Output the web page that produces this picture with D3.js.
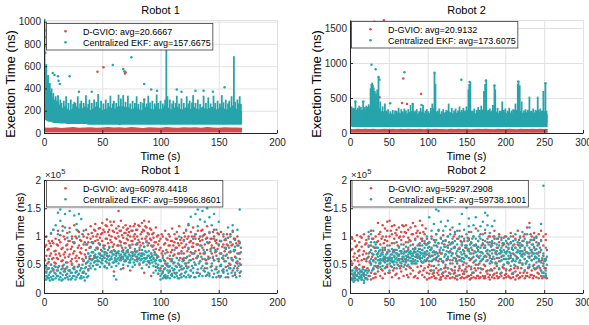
<!DOCTYPE html>
<html>
<head>
<meta charset="utf-8">
<script src="https://cdn.jsdelivr.net/npm/d3@7"></script>
<style>
  body { margin: 0; background: #fff; }
  svg { display: block; font-family: "Liberation Sans", Arial, sans-serif; }
</style>
</head>
<body>
<svg id="chart" width="589" height="325"></svg>
<script>
// ---- data ----
const RED = '#d64b4b';
const TEAL = '#27a4ab';

const xTicksR1 = [0, 50, 100, 150, 200];
const xTicksR2 = [0, 50, 100, 150, 200, 250, 300];
const yTicksTopR1 = [0, 200, 400, 600, 800, 1000];
const yTicksTopR2 = [0, 500, 1000, 1500];
const yTicksBottom = [0, 50, 100, 150, 200]; // in 1e3 ns

const legendTopR1 = ['D-GVIO: avg=20.6667', 'Centralized EKF: avg=157.6675'];
const legendTopR2 = ['D-GVIO: avg=20.9132', 'Centralized EKF: avg=173.6075'];
const legendBotR1 = ['D-GVIO: avg=60978.4418', 'Centralized EKF: avg=59966.8601'];
const legendBotR2 = ['D-GVIO: avg=59297.2908', 'Centralized EKF: avg=59738.1001'];

// top row: dense bands [t, low, high] (ns), spike columns [t, top] and outliers [t, v]
const gvioBandR1 = [[0,5,50],[5,5,48],[10,5,52],[15,5,46],[20,5,50],[25,5,55],[30,5,48],[35,5,50],[40,5,52],[45,5,47],[50,5,50],[55,5,54],[60,5,49],[65,5,51],[70,5,48],[75,5,53],[80,5,50],[85,5,46],[90,5,52],[95,5,50],[100,5,48],[105,5,55],[110,5,50],[115,5,47],[120,5,52],[125,5,49],[130,5,51],[135,5,48],[140,5,53],[145,5,50],[150,5,47],[155,5,52],[160,5,49],[165,5,50],[170,5,48]];
const ekfBandR1 = [[0,150,780],[1,120,620],[2,110,540],[4,100,420],[6,100,360],[8,90,300],[10,90,270],[12,90,280],[14,85,240],[16,85,225],[18,85,245],[20,80,220],[22,80,205],[24,80,215],[26,80,230],[28,80,240],[30,80,220],[32,80,210],[34,80,235],[36,80,240],[38,75,215],[40,75,205],[42,75,220],[44,75,235],[46,75,245],[48,75,225],[50,75,205],[52,75,215],[54,75,220],[56,75,240],[58,75,225],[60,75,210],[62,75,225],[64,75,245],[66,75,235],[68,75,245],[70,75,230],[72,75,240],[74,75,220],[76,75,210],[78,75,235],[80,75,225],[82,75,210],[84,75,205],[86,75,220],[88,75,240],[90,75,230],[92,75,215],[94,75,210],[96,75,245],[98,75,225],[100,75,210],[102,75,220],[104,75,260],[106,75,235],[108,75,215],[110,75,210],[112,75,230],[114,75,240],[116,75,220],[118,75,210],[120,75,215],[122,75,235],[124,75,220],[126,75,215],[128,75,240],[130,75,225],[132,75,210],[134,75,215],[136,75,240],[138,75,220],[140,75,215],[142,75,225],[144,75,235],[146,75,230],[148,75,210],[150,75,220],[152,75,240],[154,75,225],[156,75,210],[158,75,215],[160,75,230],[162,75,250],[164,75,225],[166,75,210],[168,75,205],[170,75,200]];
const ekfSpikesR1 = [[0.5,1000],[2,620],[3.5,520],[4,420],[5,450],[6.5,400],[8,360],[9,300],[10,330],[11,290],[12,340],[14,300],[15,270],[17,290],[19,330],[21,270],[23,300],[25,260],[26,280],[27,270],[29,330],[31,265],[32,290],[34,270],[36,340],[38,260],[39,300],[41,270],[43,300],[45,280],[46.5,350],[49,290],[51,265],[53,300],[55,270],[57,335],[59,265],[60,290],[62,270],[64,345],[66,310],[68,340],[70,280],[72,335],[74,265],[76,290],[78,270],[79.5,330],[81,260],[83,280],[85,270],[86,300],[88,265],[89.5,335],[91,275],[93,290],[95,265],[96.7,345],[98,270],[100,290],[102,265],[104,300],[105,780],[106,330],[108,300],[110,265],[111,290],[113,270],[114,335],[116,265],[118,310],[120,270],[122.5,330],[124,265],[125,290],[127,275],[128,340],[130,270],[132,300],[134,260],[137,335],[139,270],[141,320],[143,265],[145.5,335],[147,270],[149,290],[151,265],[152.6,340],[154,275],[156,300],[158,265],[159,290],[161,330],[163,690],[164,280],[166,300],[167,265],[168,330],[169,260]];
const gvioOutR1 = [[45.6,980],[45.9,550],[51,590],[69.5,535],[86,300],[38.5,226],[65,80],[70,545]];
const ekfOutR1 = [[0.3,1015],[0.5,920],[0.6,860],[0.8,780],[1.2,720],[7.5,540],[9,520],[12,510],[12.5,470],[13.5,440],[22,510],[59,610],[68,575],[69,555],[75,680],[86,440],[104.7,780],[97,380],[118,370],[137,380],[145,370],[155,410],[30,370],[41,370],[114,390],[130,380],[92,390]];

const gvioBandR2 = [[0,5,58],[5,5,55],[10,5,60],[15,5,56],[20,5,62],[25,5,57],[30,5,60],[35,5,55],[40,5,58],[45,5,61],[50,5,56],[55,5,59],[60,5,55],[65,5,60],[70,5,57],[75,5,62],[80,5,56],[85,5,58],[90,5,60],[95,5,55],[100,5,59],[105,5,57],[110,5,61],[115,5,56],[120,5,58],[125,5,55],[130,5,60],[135,5,57],[140,5,59],[145,5,56],[150,5,61],[155,5,55],[160,5,58],[165,5,60],[170,5,56],[175,5,59],[180,5,57],[185,5,55],[190,5,60],[195,5,58],[200,5,56],[205,5,61],[210,5,57],[215,5,55],[220,5,59],[225,5,58],[230,5,56],[235,5,60],[240,5,57],[245,5,59],[250,5,56],[254.5,5,57]];
const ekfBandR2 = [[0,100,320],[3,85,345],[6,85,355],[9,85,330],[12,85,340],[15,85,325],[18,85,345],[21,85,330],[24,85,350],[27,85,420],[30,85,410],[33,85,380],[36,85,390],[39,85,330],[42,85,300],[45,85,320],[48,85,285],[51,85,270],[54,85,280],[57,85,265],[60,85,285],[63,85,300],[66,85,270],[69,85,285],[72,85,270],[75,85,285],[78,85,310],[81,85,320],[84,85,285],[87,85,270],[90,85,300],[93,85,310],[96,85,285],[99,85,265],[102,85,280],[105,85,320],[108,85,360],[111,85,310],[114,85,280],[117,85,270],[120,85,285],[123,85,300],[126,85,320],[129,85,300],[132,85,280],[135,85,285],[138,85,290],[141,85,310],[144,85,300],[147,85,285],[150,85,310],[153,85,350],[156,85,320],[159,85,290],[162,85,280],[165,85,300],[168,85,310],[171,85,340],[174,85,350],[177,85,310],[180,85,285],[183,85,310],[186,85,340],[189,85,300],[192,85,285],[195,85,320],[198,85,295],[201,85,285],[204,85,300],[207,85,290],[210,85,285],[213,85,310],[216,85,350],[219,85,320],[222,85,290],[225,85,285],[228,85,300],[231,85,320],[234,85,295],[237,85,285],[240,85,320],[243,85,300],[246,85,290],[249,85,330],[252,85,290],[254.5,85,270]];
const ekfSpikesR2 = [[2,380],[4,360],[7,450],[10,360],[12,390],[14,370],[17,450],[19,370],[21,390],[23,370],[24,410],[26.5,640],[27.5,700],[28.5,720],[29.5,690],[30.5,650],[32,600],[33.5,560],[35,620],[36.7,800],[39,450],[42,380],[45,420],[47,320],[49,340],[52,310],[55,330],[58,320],[60,320],[62.6,360],[66,340],[68,310],[70,350],[72,320],[75,340],[78,400],[81,420],[84,320],[86,340],[89,310],[91,360],[94,400],[97,320],[99,340],[101,310],[104,360],[106,420],[108.8,860],[110,700],[113,320],[115,350],[118,310],[120,340],[124,330],[127,420],[131,360],[134,320],[136,350],[139,320],[141,380],[144,330],[146,360],[148,320],[150,380],[152.5,620],[153.5,700],[155,730],[158,320],[160,350],[163,330],[165,370],[167,330],[169,390],[172.5,600],[174,700],[175.5,750],[178,330],[180,350],[182,320],[184,400],[186,680],[187,620],[190,360],[193,320],[196,450],[198,330],[200,350],[203,320],[205,360],[208,320],[210,340],[212,330],[213,420],[216,700],[217,735],[218.5,680],[221,450],[224,320],[226,340],[229,330],[231,520],[234,320],[236,350],[239,330],[241.7,520],[243,330],[245,350],[247,320],[249,600],[251.6,710],[253,320]];
const gvioOutR2 = [[31.5,1590],[43.6,1610],[68.6,778],[38,510],[67,430],[73.4,415],[80.7,415],[91.5,557]];
const ekfOutR2 = [[27.6,975],[33,910],[36.7,800],[38,760],[70,870],[108.8,860],[143.3,760],[51.8,425],[7,450],[17,450],[154,730],[175,750],[186,680],[216.6,735],[251.6,710],[92,400]];
const SPIKE_BASE = 150;

// bottom row: scattered samples, rows [t, v1, v2, ...] with v in 1e3 ns
const gvioPtsR1 = [[0,48,72,95,60],[2,38,85,66,100],[4,55,78,44,92],[6,70,105,50,83],[8,62,40,88,112],[10,75,52,96,68],[12,45,84,110,60],[14,90,66,35,102],[16,58,80,118,48],[18,72,95,42,63],[20,86,54,106,77],[22,40,68,92,115],[24,60,82,50,100],[26,74,46,120,88],[28,56,97,66,38],[30,84,62,108,50],[32,70,44,92,79],[34,58,100,36,86],[36,76,52,112,64],[38,90,42,70,104],[40,82,60,118,96],[42,100,72,48,88],[44,110,64,92,122],[46,78,104,56,94],[48,115,86,68,98],[50,92,124,60,106],[52,84,108,72,46],[54,118,96,130,66],[56,102,80,112,52],[58,90,120,74,100],[60,108,86,126,38],[62,96,114,70,56],[64,145,100,84,118],[66,110,90,128,62],[68,98,76,116,44],[70,88,106,120,58],[72,114,94,72,102],[74,100,80,118,40],[76,92,110,66,86],[78,104,74,122,96],[80,86,112,60,100],[82,118,90,76,50],[84,96,108,124,70],[86,110,82,128,36],[88,100,116,62,92],[90,126,88,104,54],[92,94,112,70,30],[94,106,84,98,60],[96,90,116,46,78],[98,102,64,86,34],[100,80,44,96,58],[102,66,100,38,74],[104,88,52,110,28],[106,72,94,48,62],[108,100,60,84,40],[110,76,114,56,92],[112,90,68,104,36],[114,62,96,80,108],[116,84,50,118,70],[118,98,74,42,88],[120,70,106,58,94],[122,86,62,112,48],[124,100,78,54,120],[126,72,92,108,40],[128,88,60,116,82],[130,96,74,104,50],[132,64,110,86,36],[134,92,70,100,56],[136,80,112,60,94],[138,104,44,86,70],[140,76,98,118,52],[142,90,62,106,34],[144,70,96,48,84],[146,100,58,80,112],[148,66,88,42,94],[150,84,104,56,30],[152,92,70,48,108],[154,60,86,100,38],[156,78,46,94,66],[158,98,62,84,28],[160,72,104,50,90],[162,86,58,110,40],[164,64,96,76,32],[166,100,52,84,44],[168,70,90,36,60]];
const gvioCoreR1 = [[1,58,82],[3,52,76],[5,66,88],[7,60,92],[9,74,54],[11,62,86],[13,70,94],[15,56,78],[17,68,100],[19,84,54],[21,64,92],[23,78,56],[25,70,90],[27,62,100],[29,80,110],[31,72,94],[33,60,104],[35,68,90],[37,86,98],[39,60,80],[41,90,106],[43,62,112],[45,80,100],[47,114,88],[49,76,104],[51,84,112],[53,96,120],[55,88,108],[57,94,126],[59,82,110],[61,98,74],[63,106,84],[65,92,110],[67,102,80],[69,106,88],[71,96,112],[73,84,108],[75,92,110],[77,100,118],[79,86,112],[81,94,120],[83,104,84],[85,88,112],[87,96,118],[89,84,106],[91,96,114],[93,104,82],[95,90,72],[97,100,66],[99,92,76],[101,70,104],[103,86,58],[105,76,96],[107,84,104],[109,72,92],[111,66,84],[113,80,96],[115,70,88],[117,94,62],[119,60,80],[121,82,100],[123,74,96],[125,66,90],[127,82,100],[129,70,100],[131,62,86],[133,76,96],[135,84,110],[137,70,102],[139,96,58],[141,64,88],[143,78,96],[145,62,108],[147,72,92],[149,78,106],[151,70,92],[153,82,62],[155,74,94],[157,86,104],[159,72,52],[161,84,62],[163,74,96],[165,88,54],[167,70,92],[169,80,50]];
const ekfPtsR1 = [[0,28,40,34,50],[2,24,36,46,30],[4,32,44,26,60],[6,38,28,50,106],[8,30,42,24,112],[10,34,26,46,120],[12,40,30,142,104],[14,28,36,148,128],[16,44,32,24,110],[18,26,38,140,116],[20,34,46,28,98],[22,30,40,145,108],[24,36,26,52,96],[26,42,30,137,90],[28,28,38,122,112],[30,34,48,140,100],[32,30,44,131,26],[34,38,28,110,56],[36,46,34,62,86],[38,40,56,70,30],[40,52,66,44,80],[42,60,48,72,90],[44,56,68,42,76],[46,64,50,80,58],[48,70,46,62,86],[50,58,74,52,66],[52,62,48,78,68],[54,54,70,60,44],[56,66,58,82,50],[58,60,72,46,64],[60,68,54,76,30],[62,56,66,48,24],[64,62,74,52,70],[66,58,68,42,84],[68,64,50,72,60],[70,70,56,80,66],[72,60,76,48,64],[74,66,54,84,58],[76,72,60,46,70],[78,58,68,78,50],[80,64,74,56,88],[82,70,52,62,80],[84,60,76,44,66],[86,68,56,82,62],[88,62,72,50,90],[90,56,66,74,46],[92,70,58,84,64],[94,62,48,76,36],[96,58,68,40,52],[98,50,64,34,44],[100,40,30,56,24],[102,36,48,26,62],[104,44,32,56,70],[106,30,40,52,28],[108,38,26,48,66],[110,34,44,60,30],[112,42,28,54,76],[114,30,46,36,62],[116,40,26,58,100],[118,34,48,70,28],[120,44,30,62,92],[122,38,52,28,110],[124,32,46,80,122],[126,40,58,30,135],[128,36,70,96,44],[130,28,50,140,104],[132,42,66,148,118],[134,34,84,130,56],[136,48,30,145,100],[138,38,72,126,60],[140,44,90,150,32],[142,30,62,134,108],[144,40,80,120,52],[146,34,58,96,140],[148,46,74,28,112],[150,38,86,60,126],[152,50,30,92,70],[154,42,66,104,36],[156,56,80,28,96],[158,34,62,116,48],[160,44,90,74,100],[162,30,58,108,120],[164,48,82,36,94],[166,40,70,112,56],[168,52,88,30,148]];
const ekfCoreR1 = [[1,24,44],[3,42,28],[5,36,22],[7,24,44],[9,36,48],[11,40,30],[13,24,48],[15,42,22],[17,38,50],[19,32,44],[21,24,40],[23,36,24],[25,44,30],[27,24,36],[29,46,32],[31,26,40],[33,36,50],[35,44,22],[37,28,54],[39,48,64],[41,58,72],[43,66,54],[45,62,50],[47,70,56],[49,54,66],[51,64,80],[53,56,72],[55,64,76],[57,60,72],[59,68,54],[61,62,58],[63,72,60],[65,58,66],[67,64,74],[69,56,68],[71,62,74],[73,54,68],[75,62,72],[77,66,54],[79,64,72],[81,60,68],[83,66,58],[85,70,54],[87,60,74],[89,56,66],[91,62,52],[93,54,66],[95,56,68],[97,46,62],[99,40,58],[101,34,48],[103,42,30],[105,26,50],[107,36,46],[109,32,56],[111,40,52],[113,34,48],[115,52,26],[117,32,46],[119,42,56],[121,36,52],[123,44,64],[125,28,58],[127,48,70],[129,28,54],[131,36,62],[133,30,52],[135,44,64],[137,40,76],[139,30,52],[141,36,60],[143,46,74],[145,28,64],[147,42,76],[149,36,60],[151,28,48],[153,40,62],[155,56,80],[157,40,68],[159,44,80],[161,36,60],[163,44,76],[165,28,62],[167,48,84],[169,38,72]];

const gvioPtsR2 = [[0,30,62,88,45,100],[3,52,24,78,96,40],[6,70,36,92,58,26],[9,44,84,62,102,30],[12,66,28,90,50,76],[15,38,98,58,82,24],[18,74,46,104,32,60],[21,56,88,26,70,94],[24,40,64,100,30,82],[27,84,52,36,110,24],[30,26,68,96,44,58],[33,60,100,34,80,28],[36,92,48,124,70,38],[39,66,108,30,86,54],[42,100,40,76,120,26],[45,58,94,114,34,80],[48,110,72,46,126,92],[51,84,128,36,100,62],[54,104,56,118,28,88],[57,76,120,44,96,64],[60,112,34,90,70,102],[63,60,98,26,116,82],[66,94,48,108,38,74],[69,118,70,30,100,86],[72,56,106,90,42,120],[75,98,28,80,112,64],[78,44,92,116,70,34],[81,104,60,86,124,40],[84,78,118,30,96,52],[87,110,46,100,68,26],[90,128,84,38,106,62],[93,92,120,54,32,76],[96,70,104,28,88,44],[99,58,96,36,74,24],[102,34,66,90,26,50],[105,80,40,28,100,56],[108,30,72,48,94,36],[111,62,26,104,44,84],[114,40,88,32,56,110],[117,28,70,96,42,24],[120,76,36,54,102,30],[123,46,92,26,68,38],[126,100,30,60,44,84],[129,34,74,112,26,52],[132,58,40,90,28,70],[135,26,82,46,104,36],[138,66,30,96,52,24],[141,44,110,32,78,58],[144,28,62,86,40,100],[147,70,34,54,92,26],[150,38,80,28,64,46],[153,96,48,30,74,108],[156,32,60,88,26,42],[159,54,100,36,70,28],[162,26,84,50,114,40],[165,64,30,92,44,76],[168,36,72,28,56,104],[171,86,42,60,30,94],[174,30,106,48,80,26],[177,58,34,90,40,70],[180,24,66,100,52,32],[183,76,40,28,88,60],[186,44,96,34,110,26],[189,30,62,80,48,36],[192,90,28,56,104,42],[195,36,74,30,64,98],[198,60,44,86,26,50],[201,28,100,40,72,34],[204,80,52,30,96,60],[207,42,90,106,26,66],[210,70,34,58,100,28],[213,96,48,24,80,38],[216,32,86,62,44,110],[219,74,28,100,54,36],[222,50,92,30,68,84],[225,26,60,104,40,76],[228,88,36,56,116,30],[231,124,64,28,90,46],[234,40,100,72,32,58],[237,80,30,94,50,106],[240,28,70,44,98,62],[243,56,88,34,104,26],[246,92,40,76,30,110],[249,36,66,100,52,84],[252,60,30,94,44,104]];
const gvioCoreR2 = [[1.5,56,76],[4.5,64,32],[7.5,46,82],[10.5,56,74],[13.5,38,100],[16.5,68,46],[19.5,86,40],[22.5,44,62],[25.5,54,72],[28.5,64,96],[31.5,80,34],[34.5,46,90],[37.5,58,104],[40.5,42,96],[43.5,60,88],[46.5,46,100],[49.5,58,36],[52.5,48,110],[55.5,74,40],[58.5,32,106],[61.5,50,84],[64.5,44,100],[67.5,60,120],[70.5,50,108],[73.5,74,32],[76.5,46,94],[79.5,56,104],[82.5,72,28],[85.5,64,106],[88.5,86,36],[91.5,48,96],[94.5,108,40],[97.5,56,114],[100.5,46,88],[103.5,40,76],[106.5,34,66],[109.5,26,60],[112.5,36,70],[115.5,24,72],[118.5,34,56],[121.5,44,86],[124.5,30,58],[127.5,36,72],[130.5,42,88],[133.5,34,100],[136.5,30,60],[139.5,40,78],[142.5,26,92],[145.5,50,34],[148.5,42,80],[151.5,30,98],[154.5,24,58],[157.5,36,76],[160.5,44,84],[163.5,30,66],[166.5,52,26],[169.5,42,84],[172.5,26,50],[175.5,38,64],[178.5,28,100],[181.5,42,84],[184.5,32,100],[187.5,54,72],[190.5,26,96],[193.5,34,70],[196.5,46,84],[199.5,32,100],[202.5,54,88],[205.5,40,28],[208.5,34,80],[211.5,44,86],[214.5,30,64],[217.5,26,94],[220.5,44,84],[223.5,36,100],[226.5,30,52],[229.5,44,70],[232.5,32,104],[235.5,26,86],[238.5,42,64],[241.5,36,84],[244.5,44,72],[247.5,26,58],[250.5,28,44],[253.5,26,76]];
const ekfPtsR2 = [[0,30,22,38,28],[3,26,34,40,24],[6,36,28,22,44],[9,24,32,40,30],[12,34,26,42,28],[15,28,38,24,32],[18,22,30,36,18],[21,32,26,40,60],[24,70,96,40,84,108],[27,90,60,104,76,50],[30,56,82,110,42,68],[33,62,48,74,54,86],[36,58,70,44,80,64],[39,66,52,76,60,46],[42,60,72,48,68,80],[45,54,64,76,44,58],[48,70,56,62,84,50],[51,64,74,52,60,40],[54,58,68,46,78,62],[57,72,56,66,50,88],[60,62,70,54,76,44],[63,58,66,80,48,68],[66,74,60,52,70,86],[69,64,78,56,46,70],[72,60,72,82,54,66],[75,68,58,76,90,50],[78,62,74,56,70,84],[81,70,60,78,52,66],[84,64,80,58,72,94],[87,74,62,68,84,56],[90,66,78,60,88,72],[93,70,84,62,76,96],[96,80,64,92,72,58],[99,74,86,60,100,68],[102,90,70,134,56,82],[105,66,96,78,110,48],[108,84,60,122,74,40],[111,72,148,94,58,104],[114,88,145,66,112,50],[117,60,98,126,80,42],[120,76,110,56,92,36],[123,94,68,118,50,82],[126,64,100,80,44,128],[129,86,58,104,72,34],[132,70,96,52,116,88],[135,92,62,80,40,108],[138,56,86,110,74,30],[141,80,100,64,48,122],[144,68,90,140,56,84],[147,96,74,112,60,38],[150,151,84,66,104,52],[153,78,118,94,62,132],[156,90,70,108,46,80],[159,64,100,84,120,36],[162,86,134,72,58,96],[165,74,110,92,50,82],[168,96,66,118,80,44],[171,70,88,104,60,126],[174,84,112,142,66,92],[177,137,76,96,58,120],[180,62,90,74,106,40],[183,92,70,118,54,84],[186,76,100,60,88,128],[189,68,86,52,96,74],[192,84,62,100,70,44],[195,72,94,58,80,36],[198,88,66,76,50,98],[201,60,82,70,92,42],[204,78,54,96,66,86],[207,70,88,62,100,48],[210,84,60,76,92,36],[213,66,94,80,56,104],[216,76,62,90,72,46],[219,88,70,58,98,80],[222,64,84,74,52,108],[225,80,60,96,68,40],[228,72,90,56,84,104],[231,62,80,116,70,50],[234,86,66,94,58,76],[237,70,98,60,82,44],[240,78,62,90,54,100],[243,66,86,72,48,60],[246,54,76,40,94,122],[249,48,30,70,190,36],[252,40,58,28,80,34]];
const ekfCoreR2 = [[1.5,34,26],[4.5,30,20],[7.5,32,40],[10.5,36,22],[13.5,30,38],[16.5,34,42],[19.5,26,40],[22.5,24,36],[25.5,56,30],[28.5,40,70],[31.5,48,90],[34.5,68,80],[37.5,52,74],[40.5,70,58],[43.5,56,64],[46.5,68,62],[49.5,60,76],[52.5,68,56],[55.5,54,72],[58.5,60,76],[61.5,66,58],[64.5,54,74],[67.5,56,64],[70.5,60,74],[73.5,64,48],[76.5,62,72],[79.5,66,52],[82.5,56,74],[85.5,68,52],[88.5,64,78],[91.5,56,70],[94.5,66,54],[97.5,68,86],[100.5,62,80],[103.5,64,76],[106.5,58,72],[109.5,68,90],[112.5,64,82],[115.5,76,60],[118.5,70,88],[121.5,64,82],[124.5,60,74],[127.5,72,90],[130.5,66,78],[133.5,62,80],[136.5,70,56],[139.5,64,96],[142.5,72,58],[145.5,62,76],[148.5,84,66],[151.5,76,92],[154.5,70,86],[157.5,62,96],[160.5,74,56],[163.5,66,80],[166.5,62,100],[169.5,72,58],[172.5,80,64],[175.5,74,56],[178.5,68,86],[181.5,82,56],[184.5,64,76],[187.5,70,52],[190.5,62,80],[193.5,76,56],[196.5,66,88],[199.5,60,72],[202.5,74,54],[205.5,62,72],[208.5,78,56],[211.5,68,50],[214.5,72,60],[217.5,84,54],[220.5,66,74],[223.5,70,92],[226.5,72,52],[229.5,64,46],[232.5,76,94],[235.5,70,48],[238.5,64,76],[241.5,70,46],[244.5,56,80],[247.5,62,36],[250.5,56,60],[253.5,50,64]];

// ---- drawing ----
const svg = d3.select('#chart');
const defs = svg.append('defs');
const AXIS = '#262626';
const GRID = '#e2e2e2';

function band(g, rows, x, y, color) {
  const area = d3.area()
    .x(d => x(d[0]))
    .y0(d => y(d[1]))
    .y1(d => y(d[2]));
  g.append('path').datum(rows).attr('d', area).attr('fill', color);
}

function spikes(g, rows, x, y, color) {
  g.selectAll(null).data(rows).enter().append('line')
    .attr('x1', d => x(d[0])).attr('x2', d => x(d[0]))
    .attr('y1', y(SPIKE_BASE)).attr('y2', d => y(d[1]))
    .attr('stroke', color).attr('stroke-width', 1.8);
}

function dots(g, pts, x, y, color) {
  g.selectAll(null).data(pts).enter().append('circle')
    .attr('cx', d => x(d[0]))
    .attr('cy', d => y(d[1]))
    .attr('r', 1.25)
    .attr('fill', color);
}

function rowDots(g, rows, x, y, color) {
  dots(g, rows.flatMap(r => r.slice(1).map(v => [r[0], v])), x, y, color);
}

function panel(p) {
  const x = d3.scaleLinear().domain(p.xDom).range([p.x0, p.x1]);
  const y = d3.scaleLinear().domain(p.yDom).range([p.y1, p.y0]);
  const g = svg.append('g');
  const w = p.x1 - p.x0, h = p.y1 - p.y0;

  // grid
  g.append('g')
    .attr('transform', `translate(0,${p.y1})`)
    .call(d3.axisBottom(x).tickValues(p.xTicks).tickSize(-h).tickFormat(''))
    .call(s => { s.select('.domain').remove(); s.selectAll('line').attr('stroke', GRID); });
  g.append('g')
    .attr('transform', `translate(${p.x0},0)`)
    .call(d3.axisLeft(y).tickValues(p.yTicks).tickSize(-w).tickFormat(''))
    .call(s => { s.select('.domain').remove(); s.selectAll('line').attr('stroke', GRID); });
  g.append('path')
    .attr('d', `M${p.x0},${p.y0 + 0.5}H${p.x1 + 0.5}V${p.y1}`)
    .attr('fill', 'none').attr('stroke', GRID);

  // data
  defs.append('clipPath').attr('id', 'clip-' + p.id)
    .append('rect').attr('x', p.x0).attr('y', p.y0 - 2).attr('width', w + 1).attr('height', h + 2);
  const plot = g.append('g').attr('clip-path', `url(#clip-${p.id})`);
  p.draw(plot, x, y);

  // axes
  const styleAxis = s => {
    s.select('.domain').attr('stroke', AXIS);
    s.selectAll('.tick line').attr('stroke', AXIS);
    s.selectAll('.tick text').attr('fill', AXIS).attr('font-size', 10).attr('font-family', null);
  };
  g.append('g')
    .attr('transform', `translate(0,${p.y1})`)
    .call(d3.axisBottom(x).tickValues(p.xTicks).tickSizeInner(-3).tickSizeOuter(0).tickPadding(6))
    .call(styleAxis);
  g.append('g')
    .attr('transform', `translate(${p.x0},0)`)
    .call(d3.axisLeft(y).tickValues(p.yTicks).tickSizeInner(-3).tickSizeOuter(0).tickPadding(3)
      .tickFormat(p.yFormat || (d => d)))
    .call(styleAxis);

  // texts
  g.append('text').attr('x', (p.x0 + p.x1) / 2).attr('y', p.y0 - 6)
    .attr('text-anchor', 'middle').attr('font-size', 11).attr('fill', '#000').text(p.title);
  g.append('text').attr('x', (p.x0 + p.x1) / 2).attr('y', p.y1 + 27)
    .attr('text-anchor', 'middle').attr('font-size', 11).attr('fill', '#000').text('Time (s)');
  g.append('text')
    .attr('transform', `translate(${p.yLab[0]},${p.yLab[1]}) rotate(-90)`)
    .attr('text-anchor', 'middle').attr('font-size', p.yLab[2]).attr('fill', '#000').text('Exection Time (ns)');
  if (p.exponent) {
    const e = g.append('text').attr('x', p.x0 + 1).attr('y', p.y0 - 2)
      .attr('font-size', 9.5).attr('fill', AXIS);
    e.append('tspan').text('\u00d710');
    e.append('tspan').attr('dy', -4).attr('font-size', 7.5).text('5');
  }

  // legend
  const L = p.legend;
  const lg = g.append('g');
  const box = lg.append('rect').attr('x', L.x).attr('y', L.y).attr('height', 26.5)
    .attr('fill', '#fff').attr('stroke', '#3a3a3a').attr('stroke-width', 0.8);
  let maxLen = 0;
  [RED, TEAL].forEach((c, i) => {
    const cy = L.y + 7.8 + i * 11;
    lg.append('circle').attr('cx', L.x + 19).attr('cy', cy).attr('r', 1.3).attr('fill', c);
    const t = lg.append('text').attr('x', L.x + 36.5).attr('y', cy + 3.2)
      .attr('font-size', 9).attr('fill', '#000').text(p.labels[i]);
    maxLen = Math.max(maxLen, t.node().getComputedTextLength());
  });
  box.attr('width', 36.5 + maxLen + 2);
}

panel({
  id: 'tl', x0: 44, x1: 277, y0: 20, y1: 133, xDom: [0, 200], yDom: [0, 1015],
  xTicks: xTicksR1, yTicks: yTicksTopR1, title: 'Robot 1', yLab: [15, 84, 13],
  legend: { x: 46.5, y: 23.5 }, labels: legendTopR1,
  draw: (g, x, y) => {
    band(g, gvioBandR1, x, y, RED); dots(g, gvioOutR1, x, y, RED);
    band(g, ekfBandR1, x, y, TEAL); spikes(g, ekfSpikesR1, x, y, TEAL); dots(g, ekfOutR1, x, y, TEAL);
  }
});
panel({
  id: 'tr', x0: 350, x1: 583, y0: 20, y1: 133, xDom: [0, 300], yDom: [0, 1615],
  xTicks: xTicksR2, yTicks: yTicksTopR2, title: 'Robot 2', yLab: [321, 84, 13],
  legend: { x: 351.5, y: 21.5 }, labels: legendTopR2,
  draw: (g, x, y) => {
    band(g, gvioBandR2, x, y, RED); dots(g, gvioOutR2, x, y, RED);
    band(g, ekfBandR2, x, y, TEAL); spikes(g, ekfSpikesR2, x, y, TEAL); dots(g, ekfOutR2, x, y, TEAL);
  }
});
panel({
  id: 'bl', x0: 44, x1: 277, y0: 180, y1: 293, xDom: [0, 200], yDom: [0, 200],
  xTicks: xTicksR1, yTicks: yTicksBottom, title: 'Robot 1', yLab: [24, 240, 11.5], exponent: true,
  yFormat: d => d / 100,
  legend: { x: 46.5, y: 180.5 }, labels: legendBotR1,
  draw: (g, x, y) => {
    rowDots(g, gvioPtsR1, x, y, RED); rowDots(g, gvioCoreR1, x, y, RED);
    rowDots(g, ekfPtsR1, x, y, TEAL); rowDots(g, ekfCoreR1, x, y, TEAL);
  }
});
panel({
  id: 'br', x0: 350, x1: 583, y0: 180, y1: 293, xDom: [0, 300], yDom: [0, 200],
  xTicks: xTicksR2, yTicks: yTicksBottom, title: 'Robot 2', yLab: [331, 240, 11.5], exponent: true,
  yFormat: d => d / 100,
  legend: { x: 352, y: 180.5 }, labels: legendBotR2,
  draw: (g, x, y) => {
    rowDots(g, gvioPtsR2, x, y, RED); rowDots(g, gvioCoreR2, x, y, RED);
    rowDots(g, ekfPtsR2, x, y, TEAL); rowDots(g, ekfCoreR2, x, y, TEAL);
  }
});
</script>
</body>
</html>
